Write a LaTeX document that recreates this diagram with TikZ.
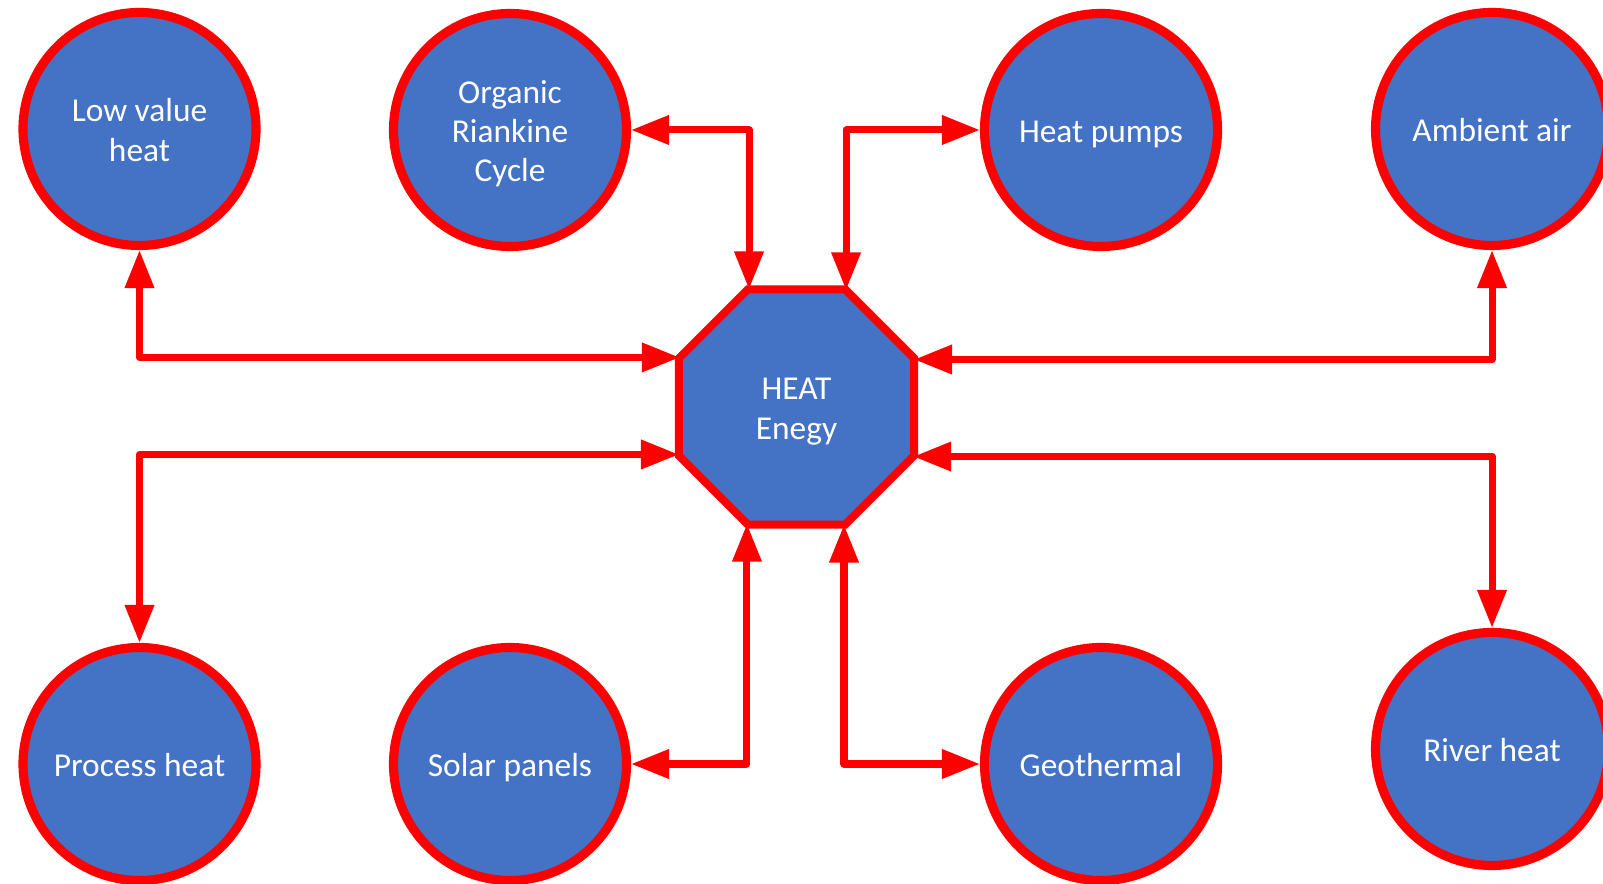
\documentclass[tikz,border=0pt]{standalone}
\usepackage{fontspec}
\setmainfont{Carlito}
\usetikzlibrary{shapes.geometric,arrows.meta}
\definecolor{heatblue}{HTML}{4472C4}
\definecolor{heatred}{HTML}{FF0000}
\newcommand\linestrut{\rule[-2pt]{0pt}{11.1pt}}
\tikzset{
  source/.style={circle,draw=heatred,fill=heatblue,line width=2.6pt,minimum size=2.33cm,
    text=white,align=center,inner sep=0pt,font=\fontsize{9.5}{11.2}\selectfont,
    execute at begin node=\linestrut,execute at end node=\linestrut},
  hub/.style={regular polygon,regular polygon sides=8,draw=heatred,fill=heatblue,line width=2.3pt,
    minimum size=2.545cm,inner sep=0pt,outer sep=0pt,text=white,align=center,
    font=\fontsize{9.5}{11.2}\selectfont,
    execute at begin node=\linestrut,execute at end node=\linestrut},
  link/.style={heatred,line width=2pt,line join=round,<->}
}
\begin{document}
\begin{tikzpicture}[>={Triangle[length=0.38cm,width=0.28cm]}]
    \useasboundingbox (0,0) rectangle (16.03,8.84);
    % centre begin
    \node[hub] (heat) at (7.965,4.77) {\linestrut HEAT\\Enegy\linestrut};
    % centre end
    % top row
    \node[source] (lowheat) at (1.395,7.55) {\linestrut Low value\\heat\linestrut};
    \node[source] (orc) at (5.10,7.54) {\linestrut Organic\\Riankine\\Cycle\linestrut};
    \node[source] (pumps) at (11.01,7.54) {Heat pumps};
    \node[source] (ambient) at (14.92,7.55) {Ambient air};
    % bottom row
    \node[source] (process) at (1.395,1.20) {Process heat};
    \node[source] (solar) at (5.10,1.20) {Solar panels};
    \node[source] (geo) at (11.01,1.20) {Geothermal};
    \node[source] (river) at (14.92,1.35) {River heat};
    % links
    \draw[link] (lowheat.south) |- (heat.157.5);
    \draw[link] (orc.east) -| (heat.112.5);
    \draw[link] (pumps.west) -| (heat.67.5);
    \draw[link] (ambient.south) |- (heat.22.5);
    \draw[link] (process.north) |- (heat.202.5);
    \draw[link] (solar.east) -| (heat.247.5);
    \draw[link] (geo.west) -| (heat.292.5);
    \draw[link] (river.north) |- (heat.337.5);
\end{tikzpicture}
\end{document}
